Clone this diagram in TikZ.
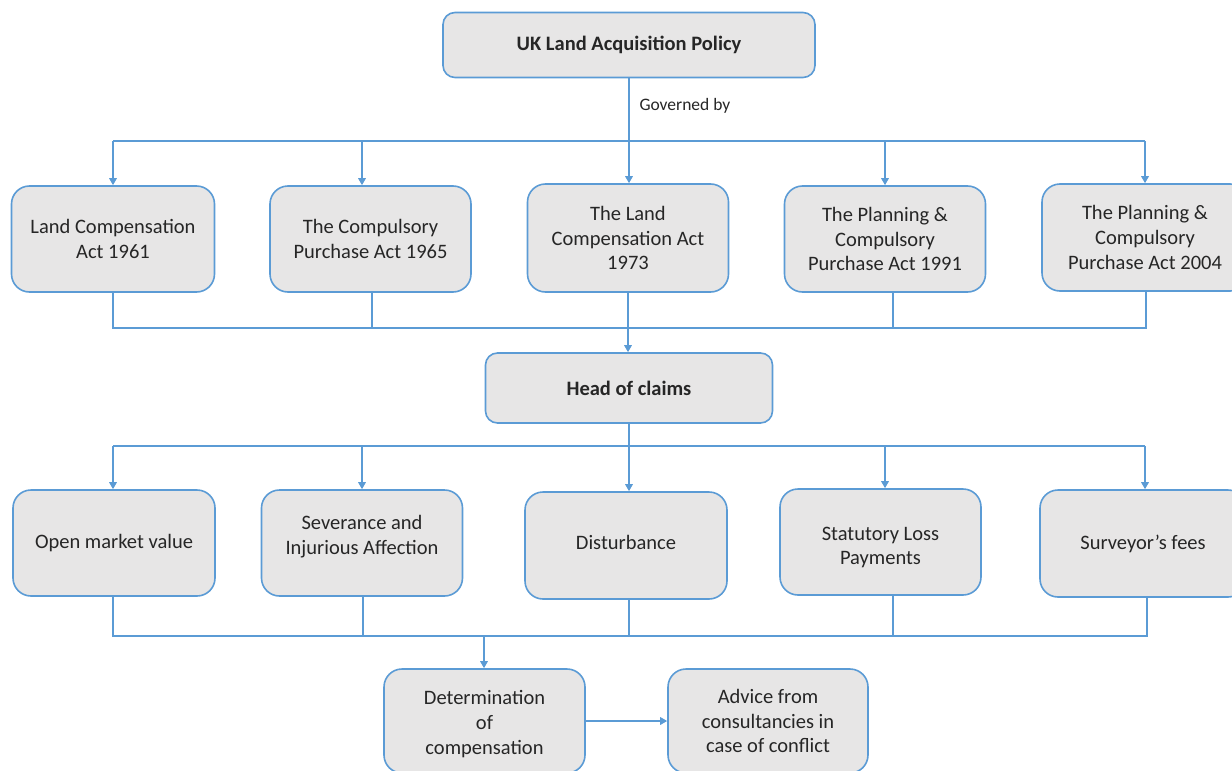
\documentclass[tikz,border=0pt]{standalone}
\usepackage{fontspec}
\setmainfont{Carlito}
\usetikzlibrary{arrows.meta}
\definecolor{bl}{HTML}{5B9BD5}
\definecolor{gb}{HTML}{E7E6E6}
\begin{document}
\begin{tikzpicture}[x=1pt,y=-1pt,
  box/.style={draw=bl, fill=gb, line width=1.6pt, rounded corners=18pt, align=center,
    inner sep=0pt, text=black!85, font=\fontsize{20.5}{24.8}\selectfont},
  ln/.style={draw=bl, line width=1.6pt},
  arr/.style={ln, -{Triangle[width=7.5pt,length=7pt]}}]
\clip (0,0) rectangle (1232,771);
% top
\node[box, minimum width=372pt, minimum height=65pt, rounded corners=12pt,
  font=\bfseries\fontsize{20.5}{24}\selectfont] (top) at (629,45) {UK Land Acquisition Policy};
\node[font=\fontsize{17.5}{20}\selectfont, text=black!85, anchor=west] (gov) at (636,106) {Governed by};
% row 1
\node[box, minimum width=203pt, minimum height=106pt] (a1) at (113,239) {Land Compensation\\Act 1961};
\node[box, minimum width=201pt, minimum height=106pt] (a2) at (370.5,239) {The Compulsory\\Purchase Act 1965};
\node[box, minimum width=201pt, minimum height=108pt] (a3) at (628,238) {The Land\\Compensation Act\\1973};
\node[box, minimum width=201pt, minimum height=106pt] (a4) at (885,239) {The Planning \&\\Compulsory\\Purchase Act 1991};
\node[box, minimum width=206pt, minimum height=107pt] (a5) at (1145,237.5) {The Planning \&\\Compulsory\\Purchase Act 2004};
% head
\node[box, minimum width=287pt, minimum height=70pt, rounded corners=12pt,
  font=\bfseries\fontsize{20.5}{24}\selectfont] (head) at (629,388) {Head of claims};
% row 2
\node[box, minimum width=202pt, minimum height=106pt] (b1) at (114,543) {Open market value};
\node[box, minimum width=201pt, minimum height=106pt] (b2) at (362,543) {Severance and\\Injurious Affection\\[-8.5pt]\mbox{}};
\node[box, minimum width=202pt, minimum height=107pt] (b3) at (626,545.5) {Disturbance\\[-18.5pt]\mbox{}};
\node[box, minimum width=201pt, minimum height=106pt] (b4) at (880.5,542) {\mbox{}\\[-0.5pt]Statutory Loss\\Payments};
\node[box, minimum width=206pt, minimum height=107pt] (b5) at (1143,543.5) {Surveyor's fees};
% bottom
\node[box, minimum width=201pt, minimum height=104pt] (c1) at (484.5,721) {\mbox{}\\[-4.5pt]Determination\\of\\compensation};
\node[box, minimum width=200pt, minimum height=104pt] (c2) at (768,721) {Advice from\\consultancies in\\case of conflict};
% buses
\coordinate (bus1) at (629,141);
\coordinate (bus1b) at (628,328);
\coordinate (bus2) at (629,446);
\coordinate (bus3) at (484,636);
% top -> row1
\draw[arr] (top.south) -- (top.south |- a3.north);
\draw[ln] (a1.north |- bus1) -- (a5.north |- bus1);
\draw[arr] (a1.north |- bus1) -- (a1.north);
\draw[arr] ([xshift=-8.5pt]a2.north |- bus1) -- ([xshift=-8.5pt]a2.north);
\draw[arr] (a4.north |- bus1) -- (a4.north);
\draw[arr] (a5.north |- bus1) -- (a5.north);
% row1 -> head
\draw[ln] (a1.south) -- (a1.south |- bus1b) -- ([xshift=1pt]a5.south |- bus1b) -- ([xshift=1pt]a5.south);
\draw[ln] ([xshift=1.5pt]a2.south) -- ([xshift=1.5pt]a2.south |- bus1b);
\draw[ln] ([xshift=8pt]a4.south) -- ([xshift=8pt]a4.south |- bus1b);
\draw[ln] (a3.south) -- (a3.south |- bus1b);
\draw[arr] (bus1b) -- (bus1b |- head.north);
% head -> row2
\draw[ln] (head.south) -- (head.south |- bus2);
\draw[ln] ([xshift=-1pt]b1.north |- bus2) -- ([xshift=2pt]b5.north |- bus2);
\draw[arr] ([xshift=-1pt]b1.north |- bus2) -- ([xshift=-1pt]b1.north);
\draw[arr] (b2.north |- bus2) -- (b2.north);
\draw[arr] ([xshift=3pt]b3.north |- bus2) -- ([xshift=3pt]b3.north);
\draw[arr] ([xshift=4.5pt]b4.north |- bus2) -- ([xshift=4.5pt]b4.north);
\draw[arr] ([xshift=2pt]b5.north |- bus2) -- ([xshift=2pt]b5.north);
% row2 -> determination
\draw[ln] ([xshift=-1pt]b1.south) -- ([xshift=-1pt]b1.south |- bus3) -- ([xshift=4pt]b5.south |- bus3) -- ([xshift=4pt]b5.south);
\draw[ln] ([xshift=1pt]b2.south) -- ([xshift=1pt]b2.south |- bus3);
\draw[ln] ([xshift=3pt]b3.south) -- ([xshift=3pt]b3.south |- bus3);
\draw[ln] ([xshift=12.5pt]b4.south) -- ([xshift=12.5pt]b4.south |- bus3);
\draw[arr] (bus3) -- (bus3 |- c1.north);
\draw[arr] (c1.east) -- (c2.west);
\end{tikzpicture}
\end{document}
